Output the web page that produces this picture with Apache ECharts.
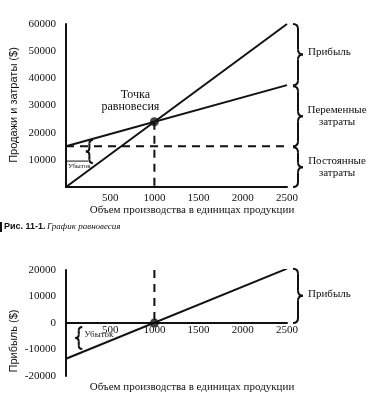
<!DOCTYPE html>
<html>
<head>
<meta charset="utf-8">
<script src="https://cdn.jsdelivr.net/npm/echarts@6/dist/echarts.min.js"></script>
<style>html,body{margin:0;padding:0;background:#fff;}#c{width:372px;height:399px;}</style>
</head>
<body>
<div id="c"></div>
<script>
// ---- data ----
const units = [0, 2500];
const sales = [0, 60000];
const totalCost = [15000, 37500];
const fixedCost = [15000, 15000];
const breakEven = [1000, 24000];
const profit = [-13500, 20500];
const profitBreakEven = [1000, 0];
const xTicks = [500, 1000, 1500, 2000, 2500];
const yTicksTop = [10000, 20000, 30000, 40000, 50000, 60000];
const yTicksBottom = [-20000, -10000, 0, 10000, 20000];

const serif = '"Liberation Serif", "DejaVu Serif", serif';
const sans = '"Liberation Sans", Arial, sans-serif';
const ink = '#111';

const pairs = (xs, ys) => xs.map((x, i) => [x, ys[i]]);

const chart = echarts.init(document.getElementById('c'), null, {renderer: 'canvas'});

const axisLabelStyle = {color: ink, fontFamily: serif, fontSize: 11};
const bottomGridHeight = 399 - 270 - 23;

const option = {
  animation: false,
  backgroundColor: '#fff',
  grid: [
    {left: 66, right: 85, top: 24, bottom: 212},
    {left: 66, right: 85, top: 270, bottom: 23}
  ],
  xAxis: [
    {type: 'value', gridIndex: 0, min: 0, max: 2500, interval: 500,
     axisLine: {show: true, onZero: false, lineStyle: {color: ink, width: 2}},
     axisTick: {show: false}, splitLine: {show: false},
     axisLabel: Object.assign({}, axisLabelStyle, {margin: 6,
       formatter: v => xTicks.includes(v) ? String(v) : ''})},
    {type: 'value', gridIndex: 1, min: 0, max: 2500, interval: 500,
     offset: -bottomGridHeight / 2,
     axisLine: {show: true, onZero: false, lineStyle: {color: ink, width: 2}},
     axisTick: {show: false}, splitLine: {show: false},
     axisLabel: Object.assign({}, axisLabelStyle, {margin: 2,
       formatter: v => xTicks.includes(v) ? String(v) : ''})}
  ],
  yAxis: [
    {type: 'value', gridIndex: 0, min: 0, max: 60000, interval: 10000,
     axisLine: {show: true, lineStyle: {color: ink, width: 2}},
     axisTick: {show: false}, splitLine: {show: false},
     axisLabel: Object.assign({}, axisLabelStyle, {margin: 10,
       formatter: v => yTicksTop.includes(v) ? String(v) : ''})},
    {type: 'value', gridIndex: 1, min: -20000, max: 20000, interval: 10000,
     axisLine: {show: true, lineStyle: {color: ink, width: 2}},
     axisTick: {show: false}, splitLine: {show: false},
     axisLabel: Object.assign({}, axisLabelStyle, {margin: 10,
       formatter: v => yTicksBottom.includes(v) ? String(v) : ''})}
  ],
  series: [
    {type: 'line', xAxisIndex: 0, yAxisIndex: 0, data: pairs(units, sales),
     symbol: 'none', lineStyle: {color: ink, width: 2}},
    {type: 'line', xAxisIndex: 0, yAxisIndex: 0, data: pairs(units, totalCost),
     symbol: 'none', lineStyle: {color: ink, width: 2}},
    {type: 'line', xAxisIndex: 0, yAxisIndex: 0, data: pairs(units, fixedCost),
     symbol: 'none', lineStyle: {color: ink, width: 2, type: [8, 6]}},
    {type: 'line', xAxisIndex: 0, yAxisIndex: 0, data: [[breakEven[0], breakEven[1]], [breakEven[0], 0]],
     symbol: 'none', lineStyle: {color: ink, width: 2, type: [8, 6]}},
    {type: 'scatter', xAxisIndex: 0, yAxisIndex: 0, data: [breakEven],
     symbolSize: 9, itemStyle: {color: ink}, z: 5},
    {type: 'line', xAxisIndex: 1, yAxisIndex: 1, data: pairs(units, profit),
     symbol: 'none', lineStyle: {color: ink, width: 2}},
    {type: 'line', xAxisIndex: 1, yAxisIndex: 1, data: [[profitBreakEven[0], 20000], [profitBreakEven[0], 0]],
     symbol: 'none', lineStyle: {color: ink, width: 2, type: [8, 6]}},
    {type: 'scatter', xAxisIndex: 1, yAxisIndex: 1, data: [profitBreakEven],
     symbolSize: 9, itemStyle: {color: ink}, z: 5}
  ]
};
chart.setOption(option);

// ---- annotations (braces, texts) positioned from data ----
const px = (g, p) => chart.convertToPixel({gridIndex: g}, p);
const braceStyle = {stroke: ink, lineWidth: 2, fill: null};

// brace built from quadratic curves and lines; dir = 1 points right "}", dir = -1 points left "{"
function brace(x, y1, y2, w, dir) {
  const m = (y1 + y2) / 2, h = w / 2;
  const outer = dir > 0 ? x : x + w;
  const mid = x + h;
  const tip = dir > 0 ? x + w : x;
  const q = (a, b, c, d, e, f) => ({type: 'bezierCurve', shape: {x1: a, y1: b, cpx1: c, cpy1: d, x2: e, y2: f}, style: braceStyle});
  const l = (a, b, c, d) => ({type: 'line', shape: {x1: a, y1: b, x2: c, y2: d}, style: braceStyle});
  return [
    q(outer, y1, mid, y1, mid, y1 + h),
    l(mid, y1 + h, mid, m - h),
    q(mid, m - h, mid, m, tip, m),
    q(tip, m, mid, m, mid, m + h),
    l(mid, m + h, mid, y2 - h),
    q(mid, y2 - h, mid, y2, outer, y2)
  ];
}

const xEnd = px(0, [2500, 0])[0];
const bx = xEnd + 6;
const yS = px(0, [2500, 60000])[1];
const yT = px(0, [2500, 37500])[1];
const yF = px(0, [2500, 15000])[1];
const y0 = px(0, [2500, 0])[1];

const lossTop = [px(0, [270, 17300]), px(0, [270, 8800])];
const lossBot = [px(1, [150, -1500]), px(1, [150, -9800])];
const profTop = px(1, [2500, 20500])[1];
const profBot = px(1, [2500, 0])[1];
const bePx = px(0, breakEven);

const rightText = (x, y, t) => ({type: 'text', x: x, y: y,
  style: {text: t, fill: ink, font: '11px ' + serif, textAlign: 'center', textVerticalAlign: 'middle'}});

let graphics = [];
graphics = graphics.concat(
  brace(bx, yS, yT, 10, 1),
  brace(bx, yT + 1, yF, 10, 1),
  brace(bx, yF + 1, y0, 10, 1),
  brace(bx, profTop, profBot, 10, 1),
  brace(lossTop[0][0] - 4, lossTop[0][1], lossTop[1][1], 7, -1),
  brace(lossBot[0][0] - 4, lossBot[0][1], lossBot[1][1], 7, -1)
);
graphics = graphics.concat([
  {type: 'text', x: 308, y: (yS + yT) / 2 - 2, style: {text: 'Прибыль', fill: ink, font: '11px ' + serif, textVerticalAlign: 'middle'}},
  rightText(337, (yT + yF) / 2 - 6, 'Переменные'),
  rightText(337, (yT + yF) / 2 + 6, 'затраты'),
  rightText(337, (yF + y0) / 2 - 6, 'Постоянные'),
  rightText(337, (yF + y0) / 2 + 6, 'затраты'),
  {type: 'text', x: 308, y: (profTop + profBot) / 2 - 2, style: {text: 'Прибыль', fill: ink, font: '11px ' + serif, textVerticalAlign: 'middle'}},

  {type: 'text', x: bePx[0] - 19, y: bePx[1] - 27, style: {text: 'Точка', fill: ink, font: '12px ' + serif, textAlign: 'center', textVerticalAlign: 'middle'}},
  {type: 'text', x: bePx[0] - 24, y: bePx[1] - 15, style: {text: 'равновесия', fill: ink, font: '12px ' + serif, textAlign: 'center', textVerticalAlign: 'middle'}},

  {type: 'text', x: 68, y: lossTop[1][1] + 3, style: {text: 'Убыток', fill: ink, font: '7px ' + serif, textVerticalAlign: 'middle'}},
  {type: 'line', shape: {x1: 67, y1: lossTop[1][1] - 2, x2: 88, y2: lossTop[1][1] - 2}, style: {stroke: ink, lineWidth: 1}},
  {type: 'text', x: lossBot[0][0] + 5, y: (lossBot[0][1] + lossBot[1][1]) / 2 - 3, style: {text: 'Убыток', fill: ink, font: '9px ' + serif, textVerticalAlign: 'middle'}},

  {type: 'text', x: 14, y: 105, rotation: Math.PI / 2, style: {text: 'Продажи и затраты ($)', fill: ink, font: '11px ' + sans, textAlign: 'center', textVerticalAlign: 'middle'}},
  {type: 'text', x: 14, y: 341, rotation: Math.PI / 2, style: {text: 'Прибыль ($)', fill: ink, font: '11px ' + sans, textAlign: 'center', textVerticalAlign: 'middle'}},
  {type: 'text', x: 192, y: 210, style: {text: 'Объем производства в единицах продукции', fill: ink, font: '11px ' + serif, textAlign: 'center', textVerticalAlign: 'middle'}},
  {type: 'text', x: 192, y: 387, style: {text: 'Объем производства в единицах продукции', fill: ink, font: '11px ' + serif, textAlign: 'center', textVerticalAlign: 'middle'}},

  {type: 'rect', shape: {x: 0, y: 222, width: 2, height: 10}, style: {fill: ink}},
  {type: 'text', x: 4, y: 227, style: {text: 'Рис. 11-1.', fill: ink, font: 'bold 9px ' + sans, textVerticalAlign: 'middle'}},
  {type: 'text', x: 47, y: 227, style: {text: 'График равновесия', fill: ink, font: 'italic 9px ' + serif, textVerticalAlign: 'middle'}}
]);
chart.setOption({graphic: graphics});
</script>
</body>
</html>
